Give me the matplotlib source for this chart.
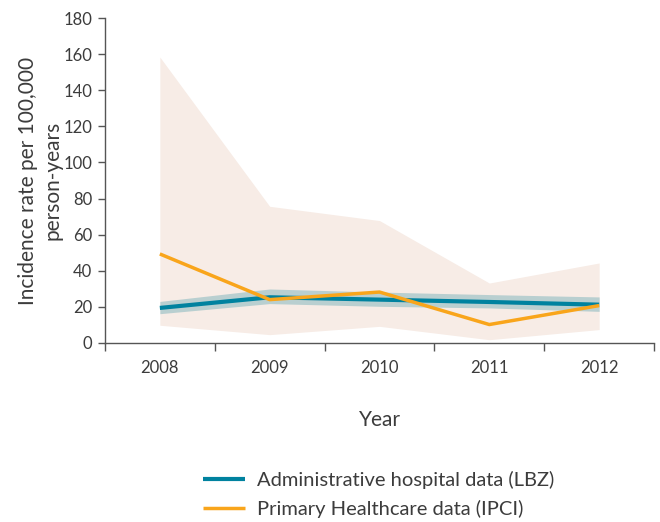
import numpy as np
import matplotlib.pyplot as plt

plt.rcParams['font.family'] = ['Lato', 'DejaVu Sans']

years = ['2008', '2009', '2010', '2011', '2012']
# Administrative hospital data (LBZ)
lbz = [19.4, 25.3, 24.0, 22.7, 21.2]
lbz_low = [16.2, 21.8, 20.3, 19.4, 17.5]
lbz_high = [23.0, 29.9, 28.2, 26.8, 25.5]
# Primary Healthcare data (IPCI)
ipci = [49.3, 24.0, 28.2, 10.2, 20.7]
ipci_low = [9.8, 4.6, 9.2, 1.8, 7.4]
ipci_high = [158.4, 75.7, 67.8, 33.2, 44.3]

blue = '#00829f'
orange = '#f9a51b'
axcol = '#555555'
txtcol = '#3c3c3c'

fig = plt.figure(figsize=(6.6, 5.22), dpi=100)
ax = fig.add_axes([0.159, 0.343, 0.832, 0.6225])

x = np.arange(len(years))
ax.fill_between(x, ipci_low, ipci_high, color='#f7ece6', lw=0, zorder=1)
ax.fill_between(x, lbz_low, lbz_high, color='#9fc3c7', alpha=0.7, lw=0, zorder=2)
ax.plot(x, lbz, color=blue, lw=3, zorder=3, label='Administrative hospital data (LBZ)',
        solid_capstyle='butt')
ax.plot(x, ipci, color=orange, lw=2.5, zorder=4, label='Primary Healthcare data (IPCI)',
        solid_capstyle='butt')

ax.set_xlim(-0.5, len(years) - 0.5)
ax.set_ylim(0, 180)
ax.set_yticks(np.arange(0, 181, 20))
ax.set_xticks(np.arange(-0.5, len(years), 1.0))
ax.set_xticklabels([])
ax.set_xticks(x, minor=True)
ax.set_xticklabels(years, minor=True)
ax.tick_params(axis='x', which='minor', length=0, pad=12, labelsize=12, labelcolor=txtcol)
ax.tick_params(axis='x', which='major', length=6, width=1, color=axcol, direction='out')
ax.tick_params(axis='y', length=5, width=1, color=axcol, labelsize=12, labelcolor=txtcol, pad=4)

for s in ['top', 'right']:
    ax.spines[s].set_visible(False)
for s in ['left', 'bottom']:
    ax.spines[s].set_color(axcol)
    ax.spines[s].set_linewidth(1)

ax.set_ylabel('Incidence rate per 100,000\nperson-years', fontsize=15, color=txtcol,
              linespacing=1.25, labelpad=1)
ax.set_xlabel('Year', fontsize=15, color=txtcol, labelpad=25)

fig.legend(loc='center', bbox_to_anchor=(0.574, 0.053), frameon=False, fontsize=14.5,
           handlelength=2.1, handletextpad=0.6, labelspacing=0.55, labelcolor=txtcol)

fig.savefig('out.png', dpi=100)
